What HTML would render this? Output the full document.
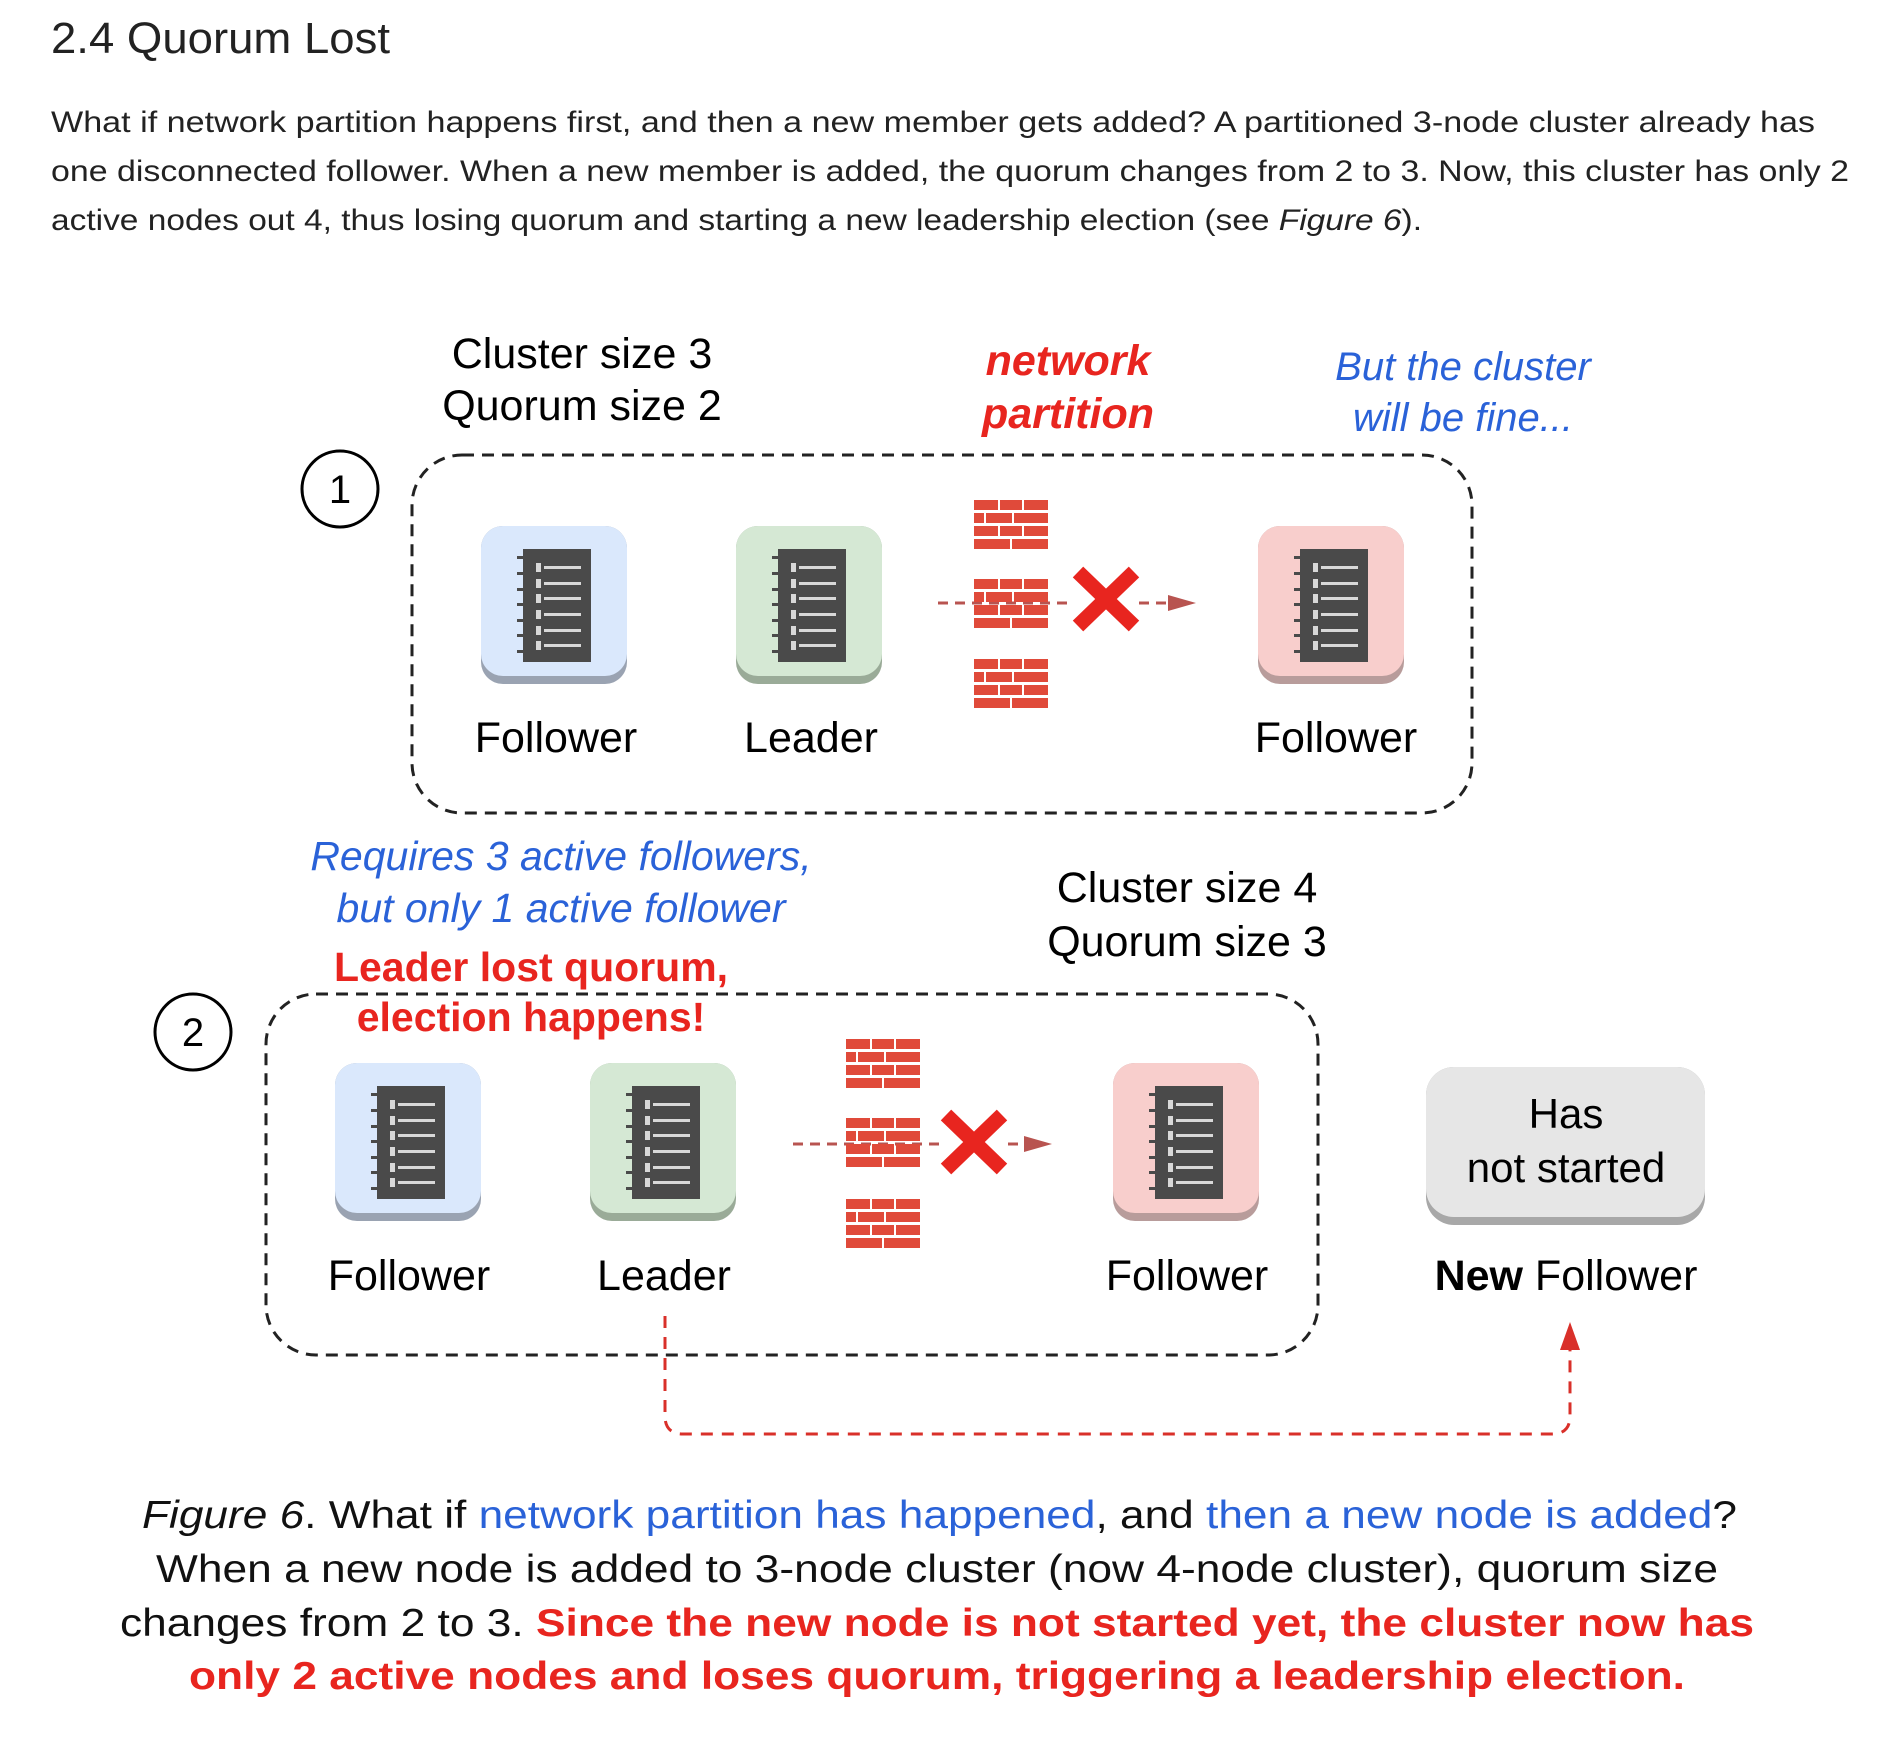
<!DOCTYPE html>
<html><head><meta charset="utf-8"><style>
html,body{margin:0;padding:0;background:#fff;}
svg{display:block;}
</style></head><body>
<svg width="1904" height="1746" viewBox="0 0 1904 1746" xmlns="http://www.w3.org/2000/svg" font-family="Liberation Sans, Arial, sans-serif">
<defs>
<g id="srv">
 <rect x="42" y="23" width="68" height="113" fill="#4a4a4a"/>
 <g fill="#4a4a4a">
  <rect x="36" y="30" width="7" height="3"/><rect x="36" y="46" width="7" height="3"/><rect x="36" y="62" width="7" height="3"/><rect x="36" y="77" width="7" height="3"/><rect x="36" y="93" width="7" height="3"/><rect x="36" y="108" width="7" height="3"/><rect x="36" y="124" width="7" height="3"/>
 </g>
 <g fill="#d8d8d8">
  <rect x="55" y="37" width="5" height="9"/><rect x="63" y="40" width="37" height="3"/>
  <rect x="55" y="53" width="5" height="9"/><rect x="63" y="56" width="37" height="3"/>
  <rect x="55" y="68" width="5" height="9"/><rect x="63" y="71" width="37" height="3"/>
  <rect x="55" y="84" width="5" height="9"/><rect x="63" y="87" width="37" height="3"/>
  <rect x="55" y="100" width="5" height="9"/><rect x="63" y="103" width="37" height="3"/>
  <rect x="55" y="115" width="5" height="9"/><rect x="63" y="118" width="37" height="3"/>
 </g>
</g>
<g id="fw" fill="#e04a3a">
 <rect x="0" y="0" width="24" height="10"/><rect x="26" y="0" width="22" height="10"/><rect x="50" y="0" width="24" height="10"/>
 <rect x="0" y="13" width="10" height="10"/><rect x="12" y="13" width="26" height="10"/><rect x="40" y="13" width="34" height="10"/>
 <rect x="0" y="26" width="24" height="10"/><rect x="26" y="26" width="22" height="10"/><rect x="50" y="26" width="24" height="10"/>
 <rect x="0" y="39" width="36" height="10"/><rect x="38" y="39" width="36" height="10"/>
</g>
</defs>

<text x="51" y="53" font-size="44" fill="#222" textLength="339" lengthAdjust="spacingAndGlyphs">2.4 Quorum Lost</text>
<g font-size="30" fill="#222">
<text x="51" y="132" textLength="1764" lengthAdjust="spacingAndGlyphs">What if network partition happens first, and then a new member gets added? A partitioned 3-node cluster already has</text>
<text x="51" y="181" textLength="1798" lengthAdjust="spacingAndGlyphs">one disconnected follower. When a new member is added, the quorum changes from 2 to 3. Now, this cluster has only 2</text>
<text x="51" y="230" textLength="1371" lengthAdjust="spacingAndGlyphs">active nodes out 4, thus losing quorum and starting a new leadership election (see <tspan font-style="italic">Figure 6</tspan>).</text>
</g>

<text x="582" y="368" font-size="43" text-anchor="middle">Cluster size 3</text>
<text x="582" y="420" font-size="43" text-anchor="middle">Quorum size 2</text>
<text x="1068" y="375" font-size="43" font-weight="bold" font-style="italic" fill="#e8251f" text-anchor="middle">network</text>
<text x="1068" y="428" font-size="43" font-weight="bold" font-style="italic" fill="#e8251f" text-anchor="middle">partition</text>
<text x="1463" y="380" font-size="40" font-style="italic" fill="#2a62d8" text-anchor="middle">But the cluster</text>
<text x="1463" y="431" font-size="40" font-style="italic" fill="#2a62d8" text-anchor="middle">will be fine...</text>

<circle cx="340" cy="489" r="38" fill="none" stroke="#000" stroke-width="3"/>
<text x="340" y="503" font-size="40" text-anchor="middle">1</text>

<rect x="412" y="455" width="1060" height="358" rx="50" fill="none" stroke="#222" stroke-width="3" stroke-dasharray="12 8"/>

<g transform="translate(481,526)"><rect width="146" height="158" rx="22" fill="#9aa3b2"/><rect width="146" height="150" rx="22" fill="#dae8fc"/><use href="#srv"/></g>
<g transform="translate(736,526)"><rect width="146" height="158" rx="22" fill="#9aab98"/><rect width="146" height="150" rx="22" fill="#d5e8d4"/><use href="#srv"/></g>
<g transform="translate(1258,526)"><rect width="146" height="158" rx="22" fill="#b89c9b"/><rect width="146" height="150" rx="22" fill="#f8cecc"/><use href="#srv"/></g>

<text x="556" y="752" font-size="43" text-anchor="middle">Follower</text>
<text x="811" y="752" font-size="43" text-anchor="middle">Leader</text>
<text x="1336" y="752" font-size="43" text-anchor="middle">Follower</text>

<use href="#fw" x="974" y="500"/>
<line x1="938" y1="603" x2="1072" y2="603" stroke="#b85450" stroke-width="3" stroke-dasharray="10 7"/>
<use href="#fw" x="974" y="579"/>
<use href="#fw" x="974" y="659"/>
<line x1="1139" y1="603" x2="1170" y2="603" stroke="#b85450" stroke-width="3" stroke-dasharray="10 7"/>
<polygon points="1168,595 1196,603 1168,611" fill="#b85450"/>
<g stroke="#e8251f" stroke-width="15"><line x1="1078" y1="572" x2="1134" y2="626"/><line x1="1134" y1="572" x2="1078" y2="626"/></g>

<text x="561" y="870" font-size="41" font-style="italic" fill="#2a62d8" text-anchor="middle">Requires 3 active followers,</text>
<text x="561" y="922" font-size="41" font-style="italic" fill="#2a62d8" text-anchor="middle">but only 1 active follower</text>
<text x="531" y="981" font-size="41" font-weight="bold" fill="#e8251f" text-anchor="middle">Leader lost quorum,</text>
<text x="531" y="1031" font-size="41" font-weight="bold" fill="#e8251f" text-anchor="middle">election happens!</text>
<text x="1187" y="902" font-size="43" text-anchor="middle">Cluster size 4</text>
<text x="1187" y="956" font-size="43" text-anchor="middle">Quorum size 3</text>

<circle cx="193" cy="1032" r="38" fill="none" stroke="#000" stroke-width="3"/>
<text x="193" y="1046" font-size="40" text-anchor="middle">2</text>

<rect x="266" y="994" width="1052" height="361" rx="50" fill="none" stroke="#222" stroke-width="3" stroke-dasharray="12 8"/>

<g transform="translate(335,1063)"><rect width="146" height="158" rx="22" fill="#9aa3b2"/><rect width="146" height="150" rx="22" fill="#dae8fc"/><use href="#srv"/></g>
<g transform="translate(590,1063)"><rect width="146" height="158" rx="22" fill="#9aab98"/><rect width="146" height="150" rx="22" fill="#d5e8d4"/><use href="#srv"/></g>
<g transform="translate(1113,1063)"><rect width="146" height="158" rx="22" fill="#b89c9b"/><rect width="146" height="150" rx="22" fill="#f8cecc"/><use href="#srv"/></g>
<g transform="translate(1426,1067)"><rect width="279" height="158" rx="28" fill="#a8a8a8"/><rect width="279" height="150" rx="28" fill="#e6e6e6"/></g>
<text x="1566" y="1128" font-size="42" text-anchor="middle">Has</text>
<text x="1566" y="1182" font-size="42" text-anchor="middle">not started</text>

<text x="409" y="1290" font-size="43" text-anchor="middle">Follower</text>
<text x="664" y="1290" font-size="43" text-anchor="middle">Leader</text>
<text x="1187" y="1290" font-size="43" text-anchor="middle">Follower</text>
<text x="1566" y="1290" font-size="43" text-anchor="middle"><tspan font-weight="bold">New</tspan> Follower</text>

<use href="#fw" x="846" y="1039"/>
<line x1="793" y1="1144" x2="941" y2="1144" stroke="#b85450" stroke-width="3" stroke-dasharray="10 7"/>
<use href="#fw" x="846" y="1118"/>
<use href="#fw" x="846" y="1199"/>
<line x1="1008" y1="1144" x2="1026" y2="1144" stroke="#b85450" stroke-width="3" stroke-dasharray="10 7"/>
<polygon points="1024,1136 1052,1144 1024,1152" fill="#b85450"/>
<g stroke="#e8251f" stroke-width="15"><line x1="946" y1="1115" x2="1002" y2="1169"/><line x1="1002" y1="1115" x2="946" y2="1169"/></g>

<path d="M665 1316 V1416 Q665 1434 683 1434 H1552 Q1570 1434 1570 1416 V1350" fill="none" stroke="#d9302a" stroke-width="3" stroke-dasharray="12 9"/>
<polygon points="1560,1350 1570,1322 1580,1350" fill="#d9302a"/>

<g font-size="39" fill="#111">
<text x="142" y="1528" textLength="1595" lengthAdjust="spacingAndGlyphs"><tspan font-style="italic">Figure 6</tspan>. What if <tspan fill="#2a62d8">network partition has happened</tspan>, and <tspan fill="#2a62d8">then a new node is added</tspan>?</text>
<text x="156" y="1582" textLength="1562" lengthAdjust="spacingAndGlyphs">When a new node is added to 3-node cluster (now 4-node cluster), quorum size</text>
<text x="120" y="1636" textLength="1634" lengthAdjust="spacingAndGlyphs">changes from 2 to 3. <tspan fill="#e8251f" font-weight="bold">Since the new node is not started yet, the cluster now has</tspan></text>
<text x="189" y="1689" textLength="1496" lengthAdjust="spacingAndGlyphs" fill="#e8251f" font-weight="bold">only 2 active nodes and loses quorum, triggering a leadership election.</text>
</g>
</svg>
</body></html>
